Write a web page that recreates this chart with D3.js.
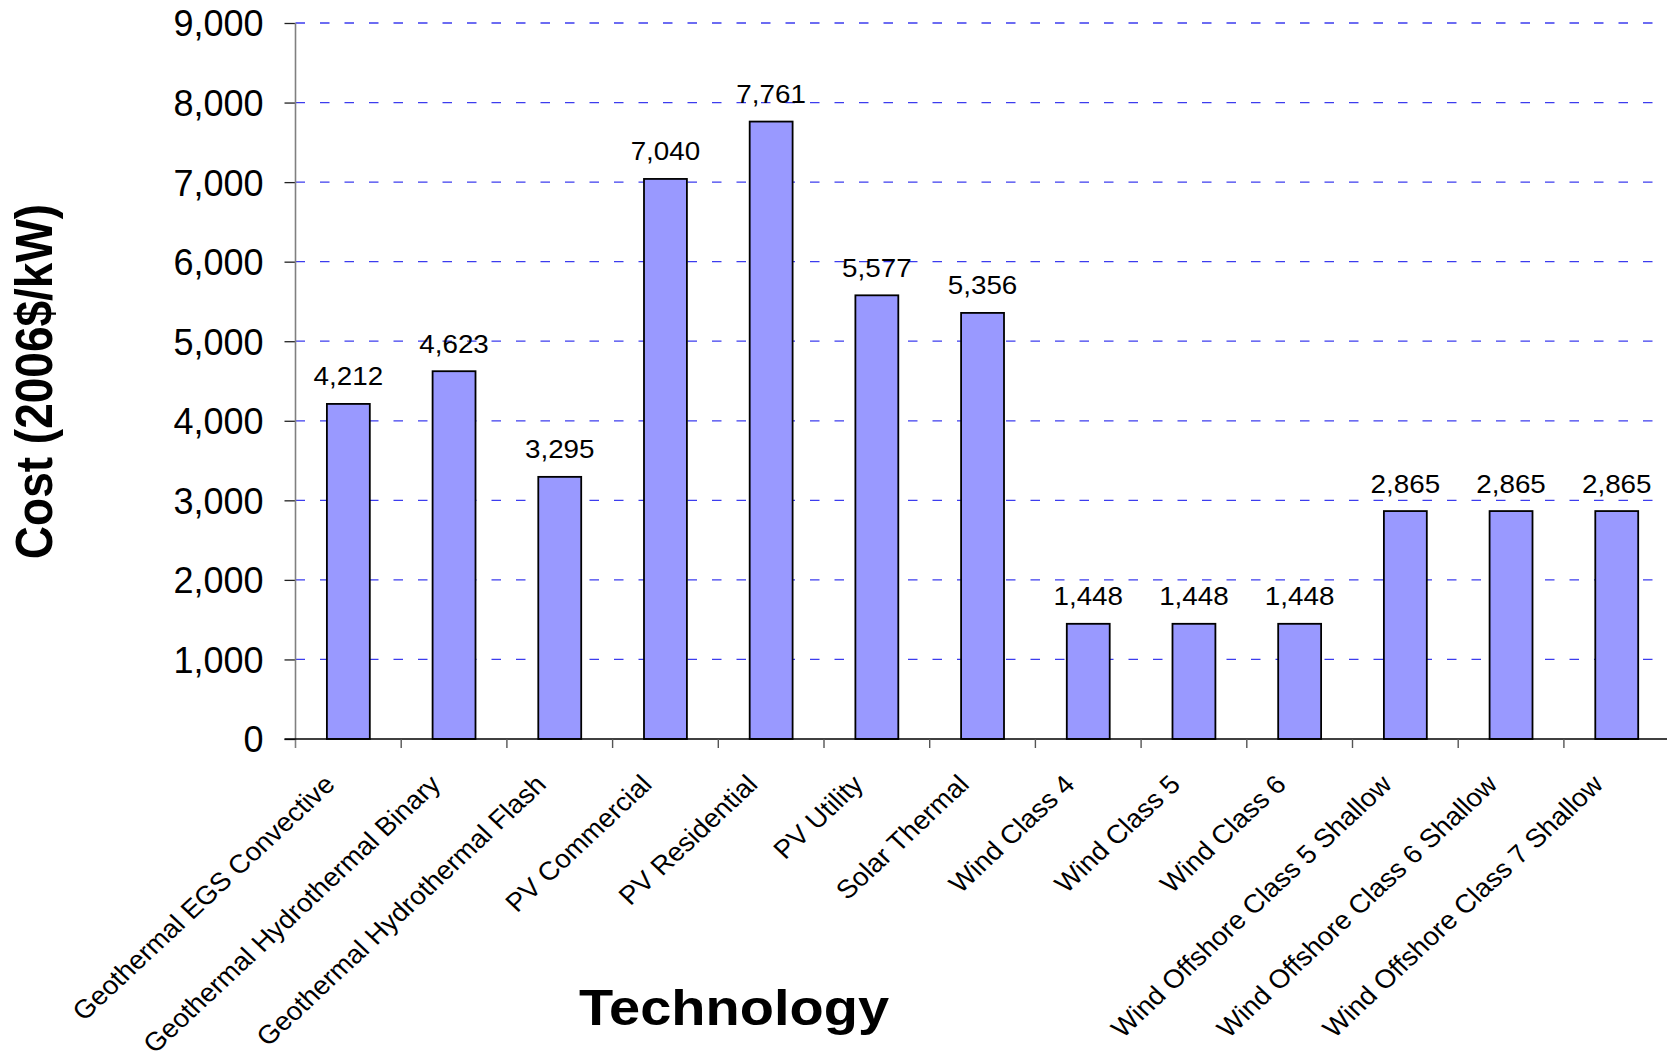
<!DOCTYPE html>
<html>
<head>
<meta charset="utf-8">
<script src="https://cdn.jsdelivr.net/npm/d3@7"></script>
<style>
  html, body { margin: 0; padding: 0; background: #ffffff; }
  svg { display: block; }
  text { font-family: "Liberation Sans", Arial, sans-serif; fill: #000; }
</style>
</head>
<body>
<script>
const categories = [
  "Geothermal EGS Convective",
  "Geothermal Hydrothermal Binary",
  "Geothermal Hydrothermal Flash",
  "PV Commercial",
  "PV Residential",
  "PV Utility",
  "Solar Thermal",
  "Wind Class 4",
  "Wind Class 5",
  "Wind Class 6",
  "Wind Offshore Class 5 Shallow",
  "Wind Offshore Class 6 Shallow",
  "Wind Offshore Class 7 Shallow"
];
const costs = [4212, 4623, 3295, 7040, 7761, 5577, 5356, 1448, 1448, 1448, 2865, 2865, 2865];
const yTicks = [0, 1000, 2000, 3000, 4000, 5000, 6000, 7000, 8000, 9000];
const yTitle = "Cost (2006$/kW)";
const xTitle = "Technology";

const W = 1667, H = 1060;
const plotLeft = 295.5, bandStep = 105.7;
const plotRight = plotLeft + categories.length * bandStep;
const plotTop = 23, plotBottom = 739;
const stretch = 1.07;

const svg = d3.select("body").append("svg").attr("width", W).attr("height", H);

const x = d3.scaleBand().domain(categories).range([plotLeft, plotRight])
  .paddingInner(0.594).paddingOuter(0.297);
const y = d3.scaleLinear().domain([0, 9000]).range([plotBottom, plotTop]);
const fmt = d3.format(",");

// gridlines
svg.append("g").selectAll("line").data(yTicks.filter(d => d > 0)).join("line")
  .attr("x1", plotLeft).attr("x2", W)
  .attr("y1", d => y(d)).attr("y2", d => y(d))
  .attr("stroke", "#3c3cee").attr("stroke-width", 1.3)
  .attr("stroke-dasharray", "9.5,15");

// y axis
const yAxis = svg.append("g").attr("transform", `translate(${plotLeft},0)`)
  .call(d3.axisLeft(y).tickValues(yTicks).tickFormat(fmt).tickSize(11).tickPadding(21));
yAxis.select(".domain").remove();
yAxis.selectAll(".tick line").attr("stroke", "#222").attr("stroke-width", 1.3);
yAxis.selectAll(".tick text")
  .attr("font-size", 36).attr("font-family", "Liberation Sans, Arial, sans-serif")
  .attr("dy", "0.36em").attr("fill", "#000");
svg.append("line").attr("x1", plotLeft).attr("x2", plotLeft).attr("y1", plotTop).attr("y2", plotBottom + 9)
  .attr("stroke", "#808080").attr("stroke-width", 1.6);

// bars
svg.append("g").selectAll("rect").data(categories).join("rect")
  .attr("x", d => x(d)).attr("width", x.bandwidth())
  .attr("y", (d, i) => y(costs[i])).attr("height", (d, i) => y(0) - y(costs[i]))
  .attr("fill", "#9999ff").attr("stroke", "#000").attr("stroke-width", 1.8);

// x baseline and ticks
svg.append("line").attr("x1", plotLeft - 11).attr("x2", W).attr("y1", plotBottom).attr("y2", plotBottom)
  .attr("stroke", "#000").attr("stroke-width", 1.6);
const boundaries = categories.map(c => x(c) - x.step() * x.paddingOuter());
svg.append("g").selectAll("line").data(boundaries.slice(1)).join("line")
  .attr("x1", d => d).attr("x2", d => d).attr("y1", plotBottom).attr("y2", plotBottom + 9)
  .attr("stroke", "#555").attr("stroke-width", 1.4);

// value labels
svg.append("g").selectAll("text").data(categories).join("text")
  .attr("transform", (d, i) => `translate(${x(d) + x.bandwidth() / 2},${y(costs[i]) - 18.5}) scale(${stretch},1)`)
  .attr("text-anchor", "middle").attr("font-size", 26)
  .text((d, i) => fmt(costs[i]));

// category labels
svg.append("g").selectAll("text").data(categories).join("text")
  .attr("transform", d => `translate(${x(d) + x.bandwidth() / 2 - 12},${plotBottom + 47}) scale(${stretch},1) rotate(-45)`)
  .attr("text-anchor", "end").attr("font-size", 26)
  .text(d => d);

// axis titles
svg.append("text")
  .attr("transform", `translate(52,381.5) scale(1.12,1) rotate(-90)`)
  .attr("text-anchor", "middle").attr("font-size", 46).attr("font-weight", "bold")
  .text(yTitle);
svg.append("text")
  .attr("transform", `translate(734,1025) scale(1.12,1)`)
  .attr("text-anchor", "middle").attr("font-size", 50).attr("font-weight", "bold")
  .text(xTitle);
</script>
</body>
</html>
